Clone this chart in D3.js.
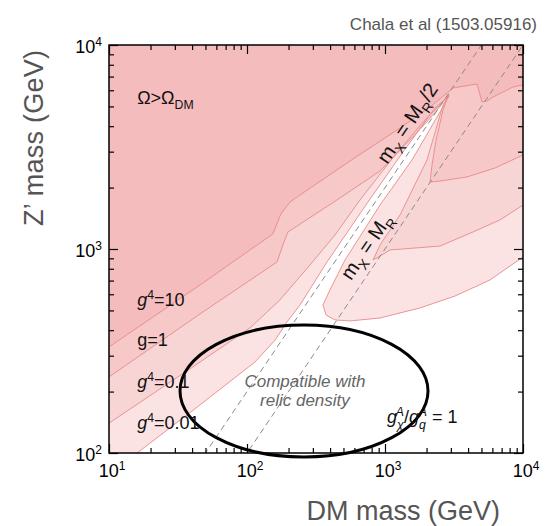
<!DOCTYPE html>
<html>
<head>
<meta charset="utf-8">
<script src="https://cdn.jsdelivr.net/npm/d3@7"></script>
<style>
  body { margin: 0; background: #fff; }
  text { font-family: "Liberation Sans", Arial, sans-serif; }
</style>
</head>
<body>
<div id="chart"></div>
<script>
let width = 549,
    height = 526,
    margin = ({ top: 45, right: 26, bottom: 73, left: 109 });

// contour boundaries [DM mass, Z' mass] in GeV
// each one: left branch up to the resonance tip, then the branch on the right
const g4_10 = [[10,331],[45.6,666],[154,1185],[176,1485],[205,1700],[242,1840],[558,2700],[1285,3918],[2119,4965],[2814,5817],
  [3110,6156],[4642,6440],[5046,5254],[5484,5312],[6063,5559],[8463,6226],[10000,6368]];
const g_1 = [[10,236],[45.6,480],[165,864],[182,1046],[198,1212],[449,1739],[920,2412],[1518,3421],[2303,4642],[2909,5752],
  [2632,4800],[2342,3421],[2191,2580],[2119,2130],[2503,2154],[3928,2254],[6268,2495],[10000,2889]];
const g4_01 = [[10,140],[45.6,279],[105,410],[173,562],[286,835],[434,1171],[659,1739],[1182,2889],[1950,4290],[2909,5687],
  [2632,5079],[2015,2731],[1285,1468],[920,1046],[819,883],[920,924],[1087,989],[2503,1034],[4342,1212],[6813,1388],[10000,1643]];
const g4_001 = [[16,100],[45.6,172],[114,279],[160,358],[195,439],[242,531],[380,864],[753,1700],[1350,2989],[2303,4910],[2909,5623],
  [2503,4693],[1569,2731],[920,1643],[513,883],[399,630],[355,531],[374,475],[434,449],[558,444],[920,459],[1793,514],[3215,588],[5768,705],[10000,914]];

const contours = [g4_001, g4_01, g_1, g4_10]; // widest first
const fills = ["#fbe3e3", "#f8d5d5", "#f6c8c8", "#f4bcbd"];

const resonances = [2, 1]; // M_R = 2 m_X  and  M_R = m_X

const xMajor = [10, 100, 1000, 10000];
const yMajor = [100, 1000, 10000];

// "compatible with relic density" ellipse, DM and Z' mass extents
const ellipseM = [32.7, 2050];
const ellipseZ = [95.6, 424];

const svg = d3.select("#chart")
  .append("svg")
  .attr("width", width)
  .attr("height", height);

let x = d3.scaleLog().domain([10, 10000]).range([margin.left, width - margin.right]);
let y = d3.scaleLog().domain([100, 10000]).range([height - margin.bottom, margin.top]);

svg.append("clipPath").attr("id", "clip")
  .append("rect")
  .attr("x", margin.left).attr("y", margin.top)
  .attr("width", x.range()[1] - x.range()[0])
  .attr("height", y.range()[0] - y.range()[1]);

const plot = svg.append("g").attr("clip-path", "url(#clip)");

// shaded regions: contour closed over the top of the plot
const area = d3.line().x(d => x(d[0])).y(d => y(d[1]));
contours.forEach((c, i) => {
  const pts = [[10, Math.max(c[0][1], 100)]].concat(c, [[10000, 10000], [10, 10000]]);
  plot.append("path")
    .attr("d", area(pts) + "Z")
    .attr("fill", fills[i]);
});

contours.forEach(c => {
  plot.append("path")
    .attr("d", area(c))
    .attr("fill", "none")
    .attr("stroke", "#e9898a")
    .attr("stroke-width", 0.9);
});

// dashed resonance lines
resonances.forEach(r => {
  plot.append("line")
    .attr("x1", x(10)).attr("y1", y(10 * r))
    .attr("x2", x(10000)).attr("y2", y(10000 * r))
    .attr("stroke", "#8a8a8a")
    .attr("stroke-width", 1)
    .attr("stroke-dasharray", "6,4");
});

// ticks on all four sides, pointing in
const xMinor = x.ticks().filter(d => !xMajor.includes(d));
const yMinor = y.ticks().filter(d => !yMajor.includes(d));

function ticks(makeAxis, major, minor, transform) {
  svg.append("g").attr("transform", transform)
    .call(makeAxis().tickValues(major).tickSize(-9).tickFormat(""))
    .call(g => g.select(".domain").remove());
  svg.append("g").attr("transform", transform)
    .call(makeAxis().tickValues(minor).tickSize(-5).tickFormat(""))
    .call(g => g.select(".domain").remove());
}
ticks(() => d3.axisBottom(x), xMajor, xMinor, `translate(0,${height - margin.bottom})`);
ticks(() => d3.axisTop(x), xMajor, xMinor, `translate(0,${margin.top})`);
ticks(() => d3.axisLeft(y), yMajor, yMinor, `translate(${margin.left},0)`);
ticks(() => d3.axisRight(y), yMajor, yMinor, `translate(${width - margin.right},0)`);
svg.selectAll(".tick line").attr("stroke", "#000").attr("stroke-width", 1.2);

svg.append("rect")
  .attr("x", margin.left).attr("y", margin.top)
  .attr("width", x.range()[1] - x.range()[0])
  .attr("height", y.range()[0] - y.range()[1])
  .attr("fill", "none")
  .attr("stroke", "#000")
  .attr("stroke-width", 1.5);

// tick labels 10^n
function power(sel, v) {
  sel.append("tspan").text("10");
  sel.append("tspan").attr("dy", -7).attr("font-size", 12).text(Math.round(Math.log10(v)));
}
xMajor.forEach(v => {
  svg.append("text")
    .attr("x", x(v) + 3).attr("y", height - margin.bottom + 24)
    .attr("text-anchor", "middle").attr("font-size", 18)
    .call(power, v);
});
yMajor.forEach(v => {
  svg.append("text")
    .attr("x", margin.left - 7).attr("y", y(v) + 8)
    .attr("text-anchor", "end").attr("font-size", 18)
    .call(power, v);
});

// ellipse
svg.append("ellipse")
  .attr("cx", (x(ellipseM[0]) + x(ellipseM[1])) / 2)
  .attr("cy", (y(ellipseZ[0]) + y(ellipseZ[1])) / 2)
  .attr("rx", (x(ellipseM[1]) - x(ellipseM[0])) / 2)
  .attr("ry", (y(ellipseZ[0]) - y(ellipseZ[1])) / 2)
  .attr("fill", "none")
  .attr("stroke", "#000")
  .attr("stroke-width", 3);

// rich text: parts are [text, kind, dx] with kind "sub", "sup", "it"
function rich(sel, parts, size) {
  let shift = 0;
  parts.forEach(p => {
    const kind = p[1] || "";
    const target = kind.includes("sub") ? size * 0.3 : kind.includes("sup") ? -size * 0.4 : 0;
    const t = sel.append("tspan")
      .attr("dy", target - shift)
      .attr("font-size", target ? size * 0.68 : size)
      .text(p[0]);
    if (kind.includes("it")) t.attr("font-style", "italic");
    if (p[2]) t.attr("dx", p[2]);
    shift = target;
  });
}

const labels = [
  { m: 16, M: 5140, parts: [["Ω>Ω"], ["DM", "sub"]] },
  { m: 16, M: 525, parts: [["g", "it"], ["4", "sup"], ["=10"]] },
  { m: 16, M: 334, parts: [["g=1"]] },
  { m: 16, M: 208, parts: [["g", "it"], ["4", "sup"], ["=0.1"]] },
  { m: 16, M: 131, parts: [["g", "it"], ["4", "sup"], ["=0.01"]] },
  { m: 1034, M: 140, parts: [["g", "it"], ["χ", "sub it"], ["A", "sup it", -8], ["/"], ["g", "it"], ["q", "sub it"], ["A", "sup it", -7], [" = 1"]] }
];
labels.forEach(l => {
  svg.append("text")
    .attr("x", x(l.m)).attr("y", y(l.M))
    .attr("font-size", 18).attr("fill", "#111")
    .call(rich, l.parts, 18);
});

svg.append("text")
  .attr("x", x(263)).attr("y", y(211))
  .attr("text-anchor", "middle").attr("font-size", 17)
  .attr("font-style", "italic").attr("fill", "#666")
  .text("Compatible with");
svg.append("text")
  .attr("x", x(263)).attr("y", y(170))
  .attr("text-anchor", "middle").attr("font-size", 17)
  .attr("font-style", "italic").attr("fill", "#666")
  .text("relic density");

// labels along the dashed lines
const angle = -Math.atan((y(100) - y(1000)) / (x(1000) - x(100))) * 180 / Math.PI;
[{ m: 1596, M: 3963, parts: [["m"], ["X", "sub"], [" = M"], ["R", "sub"], ["/2"]] },
 { m: 805, M: 988, parts: [["m"], ["X", "sub"], [" = M"], ["R", "sub"]] }].forEach(l => {
  svg.append("text")
    .attr("transform", `translate(${x(l.m)},${y(l.M)}) rotate(${angle})`)
    .attr("text-anchor", "middle").attr("dy", 7)
    .attr("font-size", 20).attr("fill", "#111")
    .call(rich, l.parts, 20);
});

// titles
svg.append("text")
  .attr("x", 537).attr("y", 30)
  .attr("text-anchor", "end").attr("font-size", 17).attr("fill", "#555")
  .text("Chala et al (1503.05916)");

svg.append("text")
  .attr("x", 500).attr("y", 520)
  .attr("text-anchor", "end").attr("font-size", 27).attr("fill", "#555")
  .text("DM mass (GeV)");

svg.append("text")
  .attr("transform", `translate(43,138) rotate(-90)`)
  .attr("text-anchor", "middle").attr("font-size", 27).attr("fill", "#555")
  .attr("textLength", 176).attr("lengthAdjust", "spacing")
  .text("Z’ mass (GeV)");
</script>
</body>
</html>
